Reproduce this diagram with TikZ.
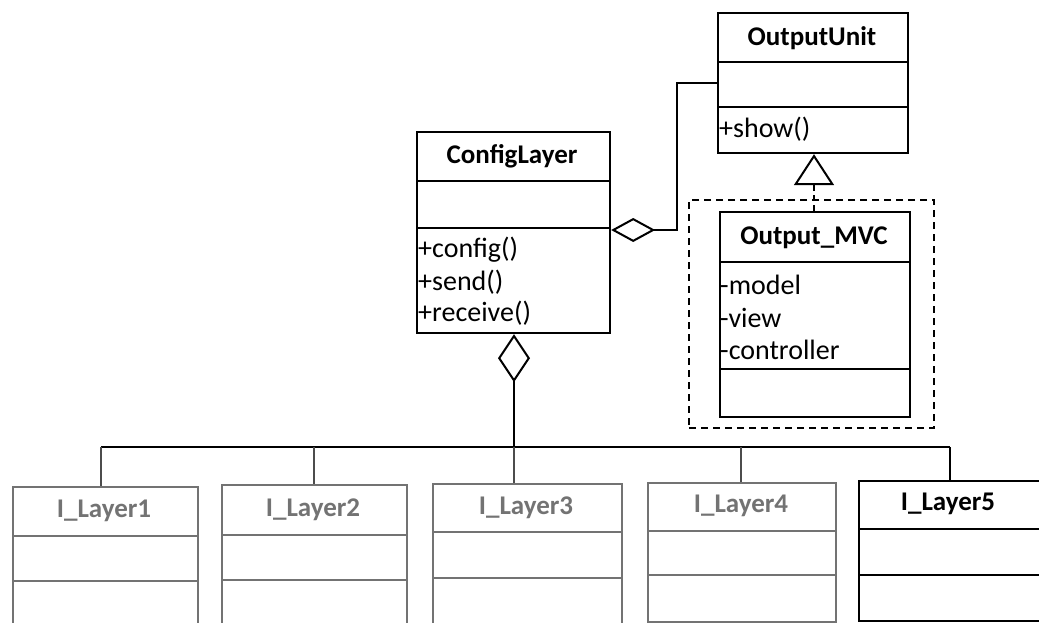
\documentclass[tikz,border=0pt]{standalone}
\usepackage{fontspec}
\setmainfont{Carlito}
\usetikzlibrary{arrows.meta}
\definecolor{faded}{gray}{0.45}
\tikzset{
  cls/.style={draw, rectangle, line width=2.2pt, inner sep=0pt, anchor=north west},
  title/.style={font=\fontsize{27}{29}\selectfont\bfseries, inner sep=0pt},
  member/.style={font=\fontsize{28}{30}\selectfont, anchor=west, inner sep=0pt},
  sep/.style={line width=2pt},
  wire/.style={line width=2pt},
}
\begin{document}
\begin{tikzpicture}[x=1pt, y=-1pt]
\useasboundingbox (0,0) rectangle (1039,623);
\clip (0,0) rectangle (1039,623);

% ConfigLayer
\node[cls, minimum width=193pt, minimum height=201pt] (cfg) at (416,131) {};
\draw[sep] (416,181) -- (609,181);
\draw[sep] (416,228) -- (609,228);
\node[title] (cfgname) at (512,156) {ConfigLayer};
\node[member] (cfgm1) at (418,250) {+config()};
\node[member] (cfgm2) at (418,282) {+send()};
\node[member] (cfgm3) at (418,313) {+receive()};

% OutputUnit
\node[cls, minimum width=190pt, minimum height=140pt] (ou) at (717,12) {};
\draw[sep] (717,62) -- (907,62);
\draw[sep] (717,107) -- (907,107);
\node[title] (ouname) at (812,38) {OutputUnit};
\node[member] (oum1) at (719,129) {+show()};

% dashed package frame round Output_MVC
\node[draw, line width=2pt, dash pattern=on 7pt off 5pt, rectangle, inner sep=0pt,
      anchor=north west, minimum width=245pt, minimum height=228pt] (pkg) at (688,199) {};

% Output_MVC
\node[cls, minimum width=190pt, minimum height=205pt] (mvc) at (719,211) {};
\draw[sep] (719,262) -- (909,262);
\draw[sep] (719,369) -- (909,369);
\node[title] (mvcname) at (814,238) {Output\_MVC};
\node[member] (mvca1) at (720,285) {-model};
\node[member] (mvca2) at (720,318) {-view};
\node[member] (mvca3) at (720,350) {-controller};

% layer classes
\node[cls, draw=faded, minimum width=185pt, minimum height=180pt] (l1) at (12,486) {};
\draw[sep, faded] (12,536) -- (197,536);
\draw[sep, faded] (12,581) -- (197,581);
\node[title, text=faded] (l1name) at (104,511) {I\_Layer1};

\node[cls, draw=faded, minimum width=185pt, minimum height=180pt] (l2) at (221,484) {};
\draw[sep, faded] (221,535) -- (406,535);
\draw[sep, faded] (221,580) -- (406,580);
\node[title, text=faded] (l2name) at (313,510) {I\_Layer2};

\node[cls, draw=faded, minimum width=189pt, minimum height=180pt] (l3) at (432,483) {};
\draw[sep, faded] (432,532) -- (621,532);
\draw[sep, faded] (432,578) -- (621,578);
\node[title, text=faded] (l3name) at (526,508) {I\_Layer3};

\node[cls, draw=faded, minimum width=188pt, minimum height=139pt] (l4) at (647,482) {};
\draw[sep, faded] (647,531) -- (835,531);
\draw[sep, faded] (647,575) -- (835,575);
\node[title, text=faded] (l4name) at (741,506) {I\_Layer4};

\node[cls, minimum width=190pt, minimum height=140pt] (l5) at (858,480) {};
\draw[sep] (858,529) -- (1048,529);
\draw[sep] (858,575) -- (1048,575);
\node[title] (l5name) at (948,504) {I\_Layer5};

% aggregation: ConfigLayer holds an OutputUnit
\coordinate (ouhook) at (677,83);
\draw[wire, -{Diamond[open, length=44pt, width=24pt, line width=2pt]}]
  (ou.west |- ouhook) -- (ouhook) -- (ouhook |- 0,230) -- (cfg.east |- 0,230);

% generalisation: Output_MVC realises OutputUnit
\draw[wire, dash pattern=on 6pt off 4pt, -{Triangle[open, length=31pt, width=40pt, line width=2pt]}]
  (mvc.north -| 814,0) -- (ou.south -| 814,0);

% aggregation: ConfigLayer holds the layers
\coordinate (bus) at (514,447);
\draw[wire, -{Diamond[open, length=48pt, width=32pt, line width=2pt]}]
  (bus) -- (cfg.south -| bus);
\draw[wire] (101,447) -- (950,447);
\draw[wire, black!70] (101,447) -- (l1.north -| 101,0);
\draw[wire, black!70] (314,447) -- (l2.north -| 314,0);
\draw[wire, black!70] (bus) -- (l3.north -| bus);
\draw[wire, black!70] (741,447) -- (l4.north -| 741,0);
\draw[wire] (950,447) -- (l5.north -| 950,0);
\end{tikzpicture}
\end{document}
